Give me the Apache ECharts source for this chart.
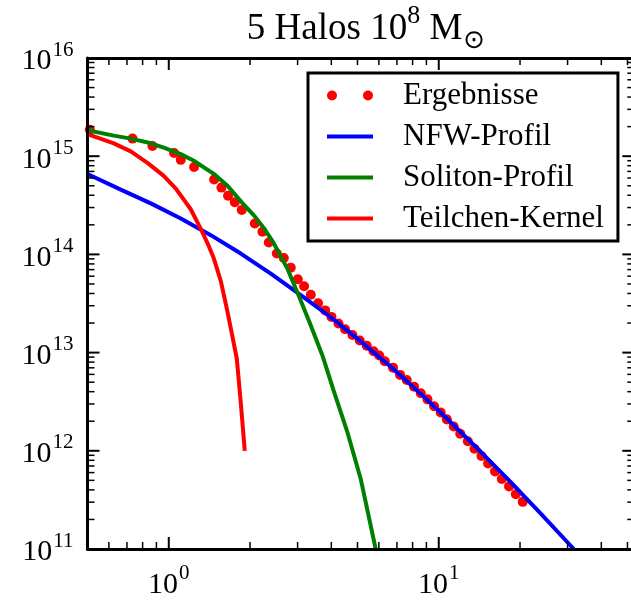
<!DOCTYPE html>
<html><head><meta charset="utf-8">
<script src="https://cdn.jsdelivr.net/npm/echarts@6/dist/echarts.min.js"></script>
<style>html,body{margin:0;padding:0;overflow:hidden;background:#fff}#c{width:640px;height:600px}</style>
</head><body><div id="c"></div>
<script>
// ---------------- DATA ----------------
const titleText = '5 Halos 10';
const seriesNames = ['Ergebnisse', 'NFW-Profil', 'Soliton-Profil', 'Teilchen-Kernel'];

const ergebnisseX = [0.51, 0.734, 0.870, 1.046, 1.108, 1.241, 1.472, 1.567, 1.658, 1.756, 1.864, 2.083, 2.223, 2.347, 2.512, 2.667, 2.830, 3.005, 3.171, 3.357, 3.573, 3.798, 4.005, 4.251, 4.498, 4.790, 5.097, 5.412, 5.732, 6.02, 6.31, 6.77, 7.19, 7.61, 8.10, 8.58, 9.08, 9.61, 10.17, 10.71, 11.36, 12.01, 12.81, 13.56, 14.39, 15.23, 16.16, 17.12, 18.21, 19.29, 20.47];
const ergebnisseY = [1.86e15, 1.51e15, 1.27e15, 1.08e15, 9.18e14, 7.76e14, 5.79e14, 4.79e14, 3.95e14, 3.39e14, 2.84e14, 2.06e14, 1.70e14, 1.32e14, 1.02e14, 9.18e13, 7.33e13, 5.58e13, 4.73e13, 3.89e13, 3.18e13, 2.69e13, 2.31e13, 1.98e13, 1.73e13, 1.51e13, 1.33e13, 1.175e13, 1.03e13, 9.33e12, 8.18e12, 7.03e12, 5.93e12, 5.25e12, 4.50e12, 3.86e12, 3.34e12, 2.84e12, 2.45e12, 2.09e12, 1.77e12, 1.49e12, 1.25e12, 1.05e12, 8.85e11, 7.41e11, 6.17e11, 5.17e11, 4.34e11, 3.61e11, 3.02e11];

const nfwX = [0.5, 0.664, 0.858, 1.108, 1.431, 1.848, 2.387, 3.083, 3.981, 5.141, 6.640, 8.577, 11.08, 14.31, 18.48, 23.87, 31.62];
const nfwY = [6.58e14, 4.57e14, 3.31e14, 2.32e14, 1.57e14, 1.02e14, 6.38e13, 3.85e13, 2.29e13, 1.30e13, 7.16e12, 3.80e12, 1.95e12, 9.77e11, 4.79e11, 2.29e11, 1.0e11];

const solitonX = [0.5, 0.626, 0.723, 0.836, 0.958, 1.108, 1.238, 1.468, 1.654, 1.864, 2.083, 2.248, 2.448, 2.759, 3.03, 3.33, 3.72, 4.08, 4.60, 5.14, 5.84];
const solitonY = [1.84e15, 1.62e15, 1.51e15, 1.38e15, 1.22e15, 1.05e15, 8.98e14, 6.61e14, 4.98e14, 3.39e14, 2.44e14, 1.86e14, 1.30e14, 7.03e13, 3.80e13, 2.0e13, 9.12e12, 4.10e12, 1.51e12, 5.17e11, 1.0e11];

const kernelX = [0.5, 0.626, 0.723, 0.836, 0.958, 1.062, 1.206, 1.314, 1.394, 1.468, 1.558, 1.640, 1.711, 1.786, 1.848, 1.912];
const kernelY = [1.68e15, 1.35e15, 1.12e15, 8.51e14, 6.31e14, 4.68e14, 2.88e14, 1.82e14, 1.29e14, 9.12e13, 5.37e13, 2.82e13, 1.58e13, 8.71e12, 3.09e12, 1.0e12];

const xMajorTicks = [1, 10];
const xMinorTicks = [0.6, 0.7, 0.8, 0.9, 2, 3, 4, 5, 6, 7, 8, 9, 20, 30, 40, 50];
const yMajorTicks = [1e11, 1e12, 1e13, 1e14, 1e15, 1e16];
const yMinorTicks = [2e11, 3e11, 4e11, 5e11, 6e11, 7e11, 8e11, 9e11,
  2e12, 3e12, 4e12, 5e12, 6e12, 7e12, 8e12, 9e12,
  2e13, 3e13, 4e13, 5e13, 6e13, 7e13, 8e13, 9e13,
  2e14, 3e14, 4e14, 5e14, 6e14, 7e14, 8e14, 9e14,
  2e15, 3e15, 4e15, 5e15, 6e15, 7e15, 8e15, 9e15];
const xMin = 0.5, xMax = 53, yMin = 1e11, yMax = 1e16;
// --------------------------------------

const FONT = 'Liberation Serif';
function pairs(xs, ys) { return xs.map((x, i) => [x, ys[i]]); }
function expLabel(v) {
  const e = Math.round(Math.log10(v));
  return '{b|10}{s|' + e + '}';
}
const labelRich = {
  b: { fontSize: 30, fontFamily: FONT, color: '#000', verticalAlign: 'bottom', padding: [7, 0, 0, 0] },
  s: { fontSize: 21, fontFamily: FONT, color: '#000', verticalAlign: 'top', padding: [0, 0, 0, 1] }
};

function axis(dim, position, labelValues) {
  const isX = dim === 'x';
  return {
    type: 'log', logBase: 10, gridIndex: 0, position: position,
    min: isX ? xMin : yMin, max: isX ? xMax : yMax,
    axisLine: { show: true, onZero: false, lineStyle: { color: '#000', width: 3 } },
    axisTick: { show: false },
    minorTick: { show: false },
    splitLine: { show: false },
    axisLabel: labelValues ? {
      show: true, customValues: labelValues, formatter: expLabel, rich: labelRich,
      margin: 14, hideOverlap: false
    } : { show: false },
    z: 5
  };
}

// tick marks drawn through the axes' own scales (api.coord), inward on all four sides
function yTickSeries(values, len, w) {
  return {
    type: 'custom', xAxisIndex: 0, yAxisIndex: 0, z: 10, silent: true, clip: false,
    data: values.map(v => [xMin, v]),
    renderItem: function (params, api) {
      const v = api.value(1);
      const l = api.coord([xMin, v]);
      const r = api.coord([xMax, v]);
      const st = { stroke: '#000', lineWidth: w };
      return { type: 'group', children: [
        { type: 'line', shape: { x1: l[0], y1: l[1], x2: l[0] + len, y2: l[1] }, style: st },
        { type: 'line', shape: { x1: r[0], y1: r[1], x2: r[0] - len, y2: r[1] }, style: st }
      ] };
    }
  };
}
function xTickSeries(values, len, w) {
  return {
    type: 'custom', xAxisIndex: 0, yAxisIndex: 0, z: 10, silent: true, clip: false,
    data: values.map(v => [v, yMin]),
    renderItem: function (params, api) {
      const v = api.value(0);
      const b = api.coord([v, yMin]);
      const t = api.coord([v, yMax]);
      const st = { stroke: '#000', lineWidth: w };
      return { type: 'group', children: [
        { type: 'line', shape: { x1: b[0], y1: b[1], x2: b[0], y2: b[1] - len }, style: st },
        { type: 'line', shape: { x1: t[0], y1: t[1], x2: t[0], y2: t[1] + len }, style: st }
      ] };
    }
  };
}

const chart = echarts.init(document.getElementById('c'), null, { renderer: 'canvas' });
const dotsIcon = 'path://M0,5a5,5 0 1,0 10,0a5,5 0 1,0 -10,0z M36,5a5,5 0 1,0 10,0a5,5 0 1,0 -10,0z';
const lineIcon = 'path://M0,0 M0,3h46v4h-46z M46,10';

chart.setOption({
  animation: false,
  backgroundColor: '#fff',
  title: {
    text: '{a|' + titleText + '}{sup|8}{a| M}{sub|\u2299}',
    left: 361, top: -2, textAlign: 'center',
    textStyle: {
      fontWeight: 'normal',
      rich: {
        a: { fontSize: 37, fontFamily: FONT, fontWeight: 'normal', color: '#000', verticalAlign: 'bottom', padding: [8, 0, 6, 0] },
        sup: { fontSize: 26, fontFamily: FONT, fontWeight: 'normal', color: '#000', verticalAlign: 'top' },
        sub: { fontSize: 26, fontFamily: 'DejaVu Sans', fontWeight: 'normal', color: '#000', verticalAlign: 'bottom', padding: [0, 0, 0, 1] }
      }
    }
  },
  grid: { left: 87.5, top: 58, width: 546.8, height: 500, containLabel: false },
  legend: {
    orient: 'vertical', left: 308, top: 73,
    itemWidth: 46, itemHeight: 10, itemGap: 10,
    borderColor: '#000', borderWidth: 3, borderRadius: 0,
    padding: [7, 14, 7, 19],
    backgroundColor: '#fff', z: 20,
    textStyle: { fontSize: 31, fontFamily: FONT, color: '#000', lineHeight: 30, padding: [0, 0, 0, 25] },
    selectedMode: false,
    data: [
      { name: seriesNames[0], icon: dotsIcon },
      { name: seriesNames[1], icon: lineIcon },
      { name: seriesNames[2], icon: lineIcon },
      { name: seriesNames[3], icon: lineIcon }
    ]
  },
  xAxis: [
    axis('x', 'bottom', xMajorTicks),
    axis('x', 'top', null)
  ],
  yAxis: [
    axis('y', 'left', yMajorTicks),
    axis('y', 'right', null)
  ],
  series: [
    { name: seriesNames[0], type: 'scatter', xAxisIndex: 0, yAxisIndex: 0, symbol: 'circle', symbolSize: 10,
      itemStyle: { color: '#ff0000', opacity: 1 }, data: pairs(ergebnisseX, ergebnisseY), z: 2 },
    { name: seriesNames[1], type: 'line', xAxisIndex: 0, yAxisIndex: 0, showSymbol: false, symbol: 'none',
      color: '#0000ff', lineStyle: { color: '#0000ff', width: 4 }, data: pairs(nfwX, nfwY), z: 3 },
    { name: seriesNames[2], type: 'line', xAxisIndex: 0, yAxisIndex: 0, showSymbol: false, symbol: 'none',
      color: '#008000', lineStyle: { color: '#008000', width: 4 }, data: pairs(solitonX, solitonY), z: 3 },
    { name: seriesNames[3], type: 'line', xAxisIndex: 0, yAxisIndex: 0, showSymbol: false, symbol: 'none',
      color: '#ff0000', lineStyle: { color: '#ff0000', width: 4 }, data: pairs(kernelX, kernelY), z: 3 },
    yTickSeries(yMajorTicks, 12, 2),
    yTickSeries(yMinorTicks, 7, 1.5),
    xTickSeries(xMajorTicks, 12, 2),
    xTickSeries(xMinorTicks, 7, 1.5)
  ]
});
</script></body></html>
